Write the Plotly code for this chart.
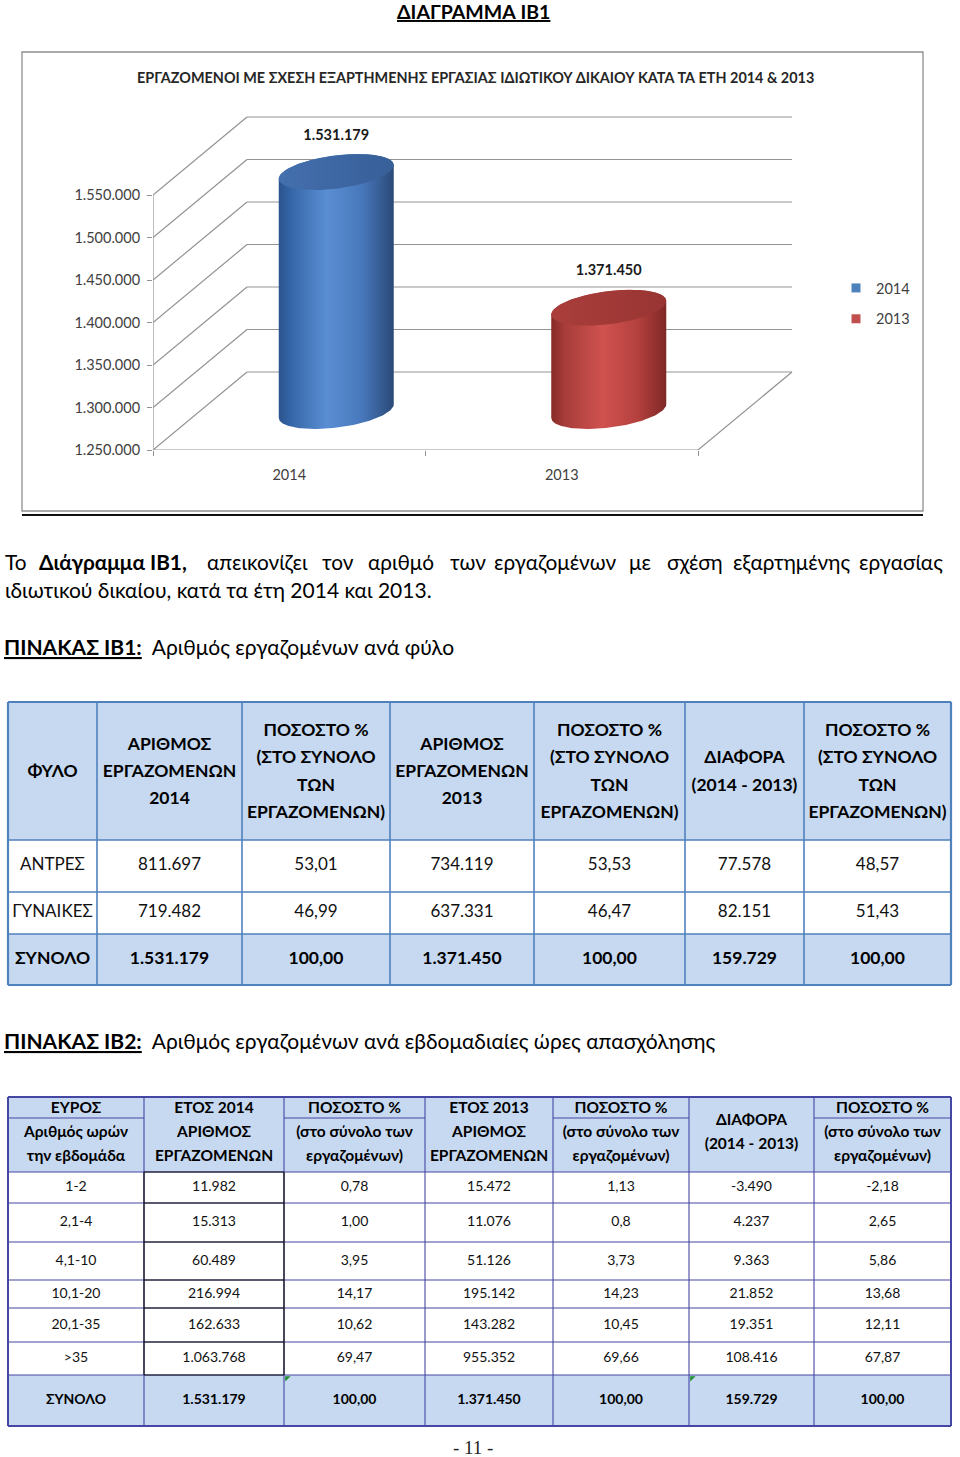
import math
import numpy as np
import plotly.graph_objects as go

# ====================== DATA ======================
years = ["2014", "2013"]
employees_total = [1531179, 1371450]
value_ticks = [1250000, 1300000, 1350000, 1400000, 1450000, 1500000, 1550000]

# Table IB1 (by sex)
t1_header = ["ΦΥΛΟ", "ΑΡΙΘΜΟΣ<br>ΕΡΓΑΖΟΜΕΝΩΝ<br>2014",
             "ΠΟΣΟΣΤΟ %<br>(ΣΤΟ ΣΥΝΟΛΟ<br>ΤΩΝ<br>ΕΡΓΑΖΟΜΕΝΩΝ)",
             "ΑΡΙΘΜΟΣ<br>ΕΡΓΑΖΟΜΕΝΩΝ<br>2013",
             "ΠΟΣΟΣΤΟ %<br>(ΣΤΟ ΣΥΝΟΛΟ<br>ΤΩΝ<br>ΕΡΓΑΖΟΜΕΝΩΝ)",
             "ΔΙΑΦΟΡΑ<br>(2014 - 2013)",
             "ΠΟΣΟΣΤΟ %<br>(ΣΤΟ ΣΥΝΟΛΟ<br>ΤΩΝ<br>ΕΡΓΑΖΟΜΕΝΩΝ)"]
t1_group = ["ΑΝΤΡΕΣ", "ΓΥΝΑΙΚΕΣ", "ΣΥΝΟΛΟ"]
t1_n2014 = [811697, 719482, 1531179]
t1_p2014 = ["53,01", "46,99", "100,00"]
t1_n2013 = [734119, 637331, 1371450]
t1_p2013 = ["53,53", "46,47", "100,00"]
t1_diff = [77578, 82151, 159729]
t1_pdiff = ["48,57", "51,43", "100,00"]

# Table IB2 (by weekly hours)
t2_header = ["ΕΥΡΟΣ<br>Αριθμός ωρών<br>την εβδομάδα",
             "ΕΤΟΣ 2014<br>ΑΡΙΘΜΟΣ<br>ΕΡΓΑΖΟΜΕΝΩΝ",
             "ΠΟΣΟΣΤΟ %<br>(στο σύνολο των<br>εργαζομένων)",
             "ΕΤΟΣ 2013<br>ΑΡΙΘΜΟΣ<br>ΕΡΓΑΖΟΜΕΝΩΝ",
             "ΠΟΣΟΣΤΟ %<br>(στο σύνολο των<br>εργαζομένων)",
             "ΔΙΑΦΟΡΑ<br>(2014 - 2013)",
             "ΠΟΣΟΣΤΟ %<br>(στο σύνολο των<br>εργαζομένων)"]
t2_header_split = [True, False, True, False, True, False, True]
t2_range = ["1-2", "2,1-4", "4,1-10", "10,1-20", "20,1-35", ">35", "ΣΥΝΟΛΟ"]
t2_n2014 = [11982, 15313, 60489, 216994, 162633, 1063768, 1531179]
t2_p2014 = ["0,78", "1,00", "3,95", "14,17", "10,62", "69,47", "100,00"]
t2_n2013 = [15472, 11076, 51126, 195142, 143282, 955352, 1371450]
t2_p2013 = ["1,13", "0,8", "3,73", "14,23", "10,45", "69,66", "100,00"]
t2_diff = [-3490, 4237, 9363, 21852, 19351, 108416, 159729]
t2_pdiff = ["-2,18", "2,65", "5,86", "13,68", "12,11", "67,87", "100,00"]

# ====================== STYLE / GEOMETRY ======================
W, H = 960, 1457
HM = 1449          # effective vertical mapping height (page px)
FONT = "Lato, 'Open Sans', sans-serif"
GRID = "#939393"
TICKFONT = dict(family=FONT, size=14.5, color="#404040")

cyl_style = {
    "2014": dict(body=[[0, "#2A538C"], [0.12, "#3768AA"], [0.42, "#5A8ED3"], [0.72, "#4878BC"], [1, "#2A4A78"]],
                 top=[[0, "#4470AE"], [1, "#375F98"]], legend="#4F81BD"),
    "2013": dict(body=[[0, "#862A28"], [0.12, "#A73D3A"], [0.45, "#D0524F"], [0.75, "#B4413E"], [1, "#7F2826"]],
                 top=[[0, "#AA3E3B"], [1, "#983533"]], legend="#C0504D"),
}

# chart axes geometry (page pixels)
AX_X0, AX_X1, AX_YB, AX_YT = 153, 800, 450, 100
PX_PER_CAT = 272.5
PX_PER_VAL = 42.5 / 50000
DEPTH_X_PX, DEPTH_Y_PX = 94, 78
DX = DEPTH_X_PX / PX_PER_CAT
DY = DEPTH_Y_PX / PX_PER_VAL
CYL_HALF_PX = 57.5
Q_PX = 18.0
P_PX = Q_PX * DEPTH_X_PX / DEPTH_Y_PX
A_PX = math.sqrt(CYL_HALF_PX ** 2 - P_PX ** 2)
TH0 = math.atan2(P_PX, A_PX)
LABEL_GAP_PX = 36

x_range = [0, (AX_X1 - AX_X0) / PX_PER_CAT]
y_range = [value_ticks[0], value_ticks[0] + (AX_YB - AX_YT) / PX_PER_VAL]


def gr_int(n):
    return f"{n:,}".replace(",", ".")


def ellipse(xc, yc, th):
    th = np.asarray(th)
    x = xc + (A_PX * np.cos(th) + P_PX * np.sin(th)) / PX_PER_CAT
    y = yc + Q_PX * np.sin(th) / PX_PER_VAL
    return x, y


fig = go.Figure()

# ---------- 3D frame (walls + floor) ----------
base0 = value_ticks[0]
ncat = len(years)
gx, gy = [], []
for v in value_ticks:
    gx += [DX, ncat + DX, None]
    gy += [v + DY, v + DY, None]
    gx += [0, DX, None]
    gy += [v, v + DY, None]
gx += [0, 0, None]
gy += [value_ticks[0], value_ticks[-1], None]
gx += [0, ncat, ncat + DX, None]
gy += [base0, base0, base0 + DY, None]
fig.add_trace(go.Scatter(x=gx, y=gy, mode="lines", line=dict(color=GRID, width=1.2),
                         hoverinfo="skip", showlegend=False))

# ---------- cylinders ----------
N = 80
for i, (yr, v) in enumerate(zip(years, employees_total)):
    st = cyl_style[yr]
    xc = i + 0.5 + DX / 2
    yb = base0 + DY / 2
    yt = v + DY / 2
    bx, by = ellipse(xc, yb, np.linspace(TH0 + math.pi, TH0 + 2 * math.pi, N))
    tx, ty = ellipse(xc, yt, np.linspace(TH0, TH0 + math.pi, N))
    body_x = np.concatenate([bx, tx, bx[:1]])
    body_y = np.concatenate([by, ty, by[:1]])
    fig.add_trace(go.Scatter(x=body_x, y=body_y, mode="lines", line=dict(width=0),
                             fill="toself",
                             fillgradient=dict(type="horizontal", colorscale=st["body"]),
                             hoverinfo="skip", showlegend=False))
    ex, ey = ellipse(xc, yt, np.linspace(0, 2 * math.pi, 2 * N))
    fig.add_trace(go.Scatter(x=ex, y=ey, mode="lines", line=dict(width=0),
                             fill="toself",
                             fillgradient=dict(type="horizontal", colorscale=st["top"]),
                             hoverinfo="skip", showlegend=False))
    fig.add_trace(go.Scatter(x=[xc], y=[yt + LABEL_GAP_PX / PX_PER_VAL], mode="text",
                             text=[f"<b>{gr_int(v)}</b>"], textposition="middle center",
                             textfont=dict(family=FONT, size=14.5, color="#1A1A1A"),
                             cliponaxis=False, hoverinfo="skip", showlegend=False))

for yr in years:
    fig.add_trace(go.Scatter(x=[None], y=[None], mode="markers", name=yr, legendgroup=yr,
                             marker=dict(symbol="square", size=9, color=cyl_style[yr]["legend"])))

# ====================== TABLES (page pixel axes x2/y2) ======================
PX = dict(xaxis="x2", yaxis="y2")


def cell_centers(edges):
    return [(a + b) / 2 for a, b in zip(edges[:-1], edges[1:])]


def text_points(xs, yc, cells, spacing, bold):
    X, Y, T = [], [], []
    for x, txt in zip(xs, cells):
        lines = txt.split("<br>")
        n = len(lines)
        for k, ln in enumerate(lines):
            X.append(x)
            Y.append(yc + (k - (n - 1) / 2) * spacing)
            T.append(f"<b>{ln}</b>" if bold else ln)
    return X, Y, T


def add_text(X, Y, T, size, color="#000000"):
    fig.add_trace(go.Scatter(x=X, y=Y, text=T, mode="text", textposition="middle center",
                             textfont=dict(family=FONT, size=size, color=color),
                             hoverinfo="skip", showlegend=False, cliponaxis=False, **PX))


def add_lines(segs, color, width):
    lx, ly = [], []
    for (x0, y0, x1, y1) in segs:
        lx += [x0, x1, None]
        ly += [y0, y1, None]
    fig.add_trace(go.Scatter(x=lx, y=ly, mode="lines", line=dict(color=color, width=width),
                             hoverinfo="skip", showlegend=False, **PX))


HEAD_FILL = "#C6D9F1"
colorscale_cells = [[0, "#FFFFFF"], [1, HEAD_FILL]]

# ---------- Table IB1 ----------
t1_cols = [8, 97, 242, 390, 534, 685, 804, 951]
t1_rows = [702, 840, 892, 934, 985]
t1_body = [[t1_group[r], gr_int(t1_n2014[r]), t1_p2014[r], gr_int(t1_n2013[r]),
            t1_p2013[r], gr_int(t1_diff[r]), t1_pdiff[r]] for r in range(len(t1_group))]
nr1 = len(t1_group)
fig.add_trace(go.Heatmap(x=t1_cols, y=t1_rows,
                         z=[[1] * 7] + [[0] * 7] * (nr1 - 1) + [[1] * 7],
                         zmin=0, zmax=1, colorscale=colorscale_cells, showscale=False,
                         hoverinfo="skip", **PX))
segs = [(t1_cols[0], y, t1_cols[-1], y) for y in t1_rows[1:-1]]
segs += [(x, t1_rows[0], x, t1_rows[-1]) for x in t1_cols[1:-1]]
add_lines(segs, "#4F81BD", 1.6)
add_lines([(t1_cols[0], t1_rows[0], t1_cols[-1], t1_rows[0]),
           (t1_cols[-1], t1_rows[0], t1_cols[-1], t1_rows[-1]),
           (t1_cols[-1], t1_rows[-1], t1_cols[0], t1_rows[-1]),
           (t1_cols[0], t1_rows[-1], t1_cols[0], t1_rows[0])], "#4F81BD", 2.2)
c1 = cell_centers(t1_cols)
r1 = cell_centers(t1_rows)
X, Y, T = text_points(c1, r1[0] + 1.5, t1_header, 27.3, True)
add_text(X, Y, T, 17.5)
X, Y, T = [], [], []
for r in range(nr1 - 1):
    a, b, c = text_points(c1, r1[r + 1], t1_body[r], 0, False)
    X += a; Y += b; T += c
add_text(X, Y, T, 17, "#111111")
X, Y, T = text_points(c1, r1[-1], t1_body[-1], 0, True)
add_text(X, Y, T, 17.5)

# ---------- Table IB2 ----------
t2_cols = [8, 144, 284, 425, 553, 689, 814, 951]
t2_rows = [1097, 1172, 1203, 1242, 1280, 1308, 1342, 1375, 1426]
t2_sub = 1118
t2_body = [[t2_range[r], gr_int(t2_n2014[r]), t2_p2014[r], gr_int(t2_n2013[r]),
            t2_p2013[r], gr_int(t2_diff[r]), t2_pdiff[r]] for r in range(len(t2_range))]
nr2 = len(t2_range)
fig.add_trace(go.Heatmap(x=t2_cols, y=t2_rows,
                         z=[[1] * 7] + [[0] * 7] * (nr2 - 1) + [[1] * 7],
                         zmin=0, zmax=1, colorscale=colorscale_cells, showscale=False,
                         hoverinfo="skip", **PX))
B2 = "#4646A4"
segs = [(t2_cols[0], y, t2_cols[-1], y) for y in t2_rows[1:-1]]
segs += [(x, t2_rows[0], x, t2_rows[-1]) for x in t2_cols[1:-1]]
segs += [(t2_cols[j], t2_sub, t2_cols[j + 1], t2_sub) for j, s in enumerate(t2_header_split) if s]
add_lines(segs, B2, 1.1)
add_lines([(t2_cols[0], t2_rows[0], t2_cols[-1], t2_rows[0]),
           (t2_cols[-1], t2_rows[0], t2_cols[-1], t2_rows[-1]),
           (t2_cols[-1], t2_rows[-1], t2_cols[0], t2_rows[-1]),
           (t2_cols[0], t2_rows[-1], t2_cols[0], t2_rows[0])], B2, 2)
# black borders around the 2014 count cells
blk = [(t2_cols[1], y, t2_cols[2], y) for y in t2_rows[1:-1]]
blk += [(x, t2_rows[1], x, t2_rows[-2]) for x in t2_cols[1:3]]
add_lines(blk, "#111111", 1.2)
c2 = cell_centers(t2_cols)
r2 = cell_centers(t2_rows)
X, Y, T = text_points(c2, r2[0] - 1.5, t2_header, 24, True)
add_text(X, Y, T, 15.5)
X, Y, T = [], [], []
for r in range(nr2 - 1):
    a, b, c = text_points(c2, r2[r + 1], t2_body[r], 0, False)
    X += a; Y += b; T += c
add_text(X, Y, T, 14, "#111111")
X, Y, T = text_points(c2, r2[-1], t2_body[-1], 0, True)
add_text(X, Y, T, 14)
# green error-indicator corners
fig.add_trace(go.Scatter(x=[t2_cols[2] + 3, t2_cols[5] + 3], y=[t2_rows[-2] + 3] * 2, mode="markers",
                         marker=dict(symbol="triangle-nw", size=6, color="#1F8F2F"),
                         hoverinfo="skip", showlegend=False, **PX))

# ====================== PAGE TEXT ======================
ann = []


def add_ann(text, x, y, size, xanchor="left", color="#000000", family=FONT):
    ann.append(dict(text=text, x=x, y=y, xref="x2", yref="y2", xanchor=xanchor, yanchor="middle",
                    showarrow=False, font=dict(family=family, size=size, color=color)))


add_ann("<b><u>ΔΙΑΓΡΑΜΜΑ ΙΒ1</u></b>", 473, 11, 19.5, "center")
add_ann("<b>ΕΡΓΑΖΟΜΕΝΟΙ ΜΕ ΣΧΕΣΗ ΕΞΑΡΤΗΜΕΝΗΣ ΕΡΓΑΣΙΑΣ ΙΔΙΩΤΙΚΟΥ ΔΙΚΑΙΟΥ ΚΑΤΑ ΤΑ ΕΤΗ 2014 &amp; 2013</b>",
        475, 77, 14.4, "center", "#262626")

line1_words = ["Το", "<b>Διάγραμμα ΙΒ1,</b>", "απεικονίζει", "τον", "αριθμό", "των",
               "εργαζομένων", "με", "σχέση", "εξαρτημένης", "εργασίας"]
line1_x = [3, 113, 257, 338, 401, 468, 555, 639.5, 695, 791, 945]
for k, (wd, x) in enumerate(zip(line1_words, line1_x)):
    anchor = "left" if k == 0 else ("right" if k == len(line1_words) - 1 else "center")
    add_ann(wd, x, 561, 20.8, anchor)
add_ann("ιδιωτικού δικαίου, κατά τα έτη 2014 και 2013.", 3, 589, 21)
add_ann("<b><u>ΠΙΝΑΚΑΣ ΙΒ1:</u></b>\u00a0\u00a0Αριθμός εργαζομένων ανά φύλο", 2, 646, 21)
add_ann("<b><u>ΠΙΝΑΚΑΣ ΙΒ2:</u></b>\u00a0\u00a0Αριθμός εργαζομένων ανά εβδομαδιαίες ώρες απασχόλησης",
        2, 1040, 21)
add_ann("- 11 -", 473, 1447, 19, "center", "#222222", "'Liberation Serif', serif")

shapes = [
    dict(type="rect", xref="x2", yref="y2", x0=22, y0=52, x1=923, y1=511,
         line=dict(color="#8E8E8E", width=1.3), layer="below"),
    dict(type="line", xref="x2", yref="y2", x0=22, y0=515, x1=923, y1=515,
         line=dict(color="#111111", width=2)),
]

fig.update_layout(
    width=W, height=H, margin=dict(l=0, r=0, t=0, b=0),
    paper_bgcolor="white", plot_bgcolor="rgba(0,0,0,0)",
    font=dict(family=FONT, color="#000000"),
    separators=",.",
    showlegend=True,
    legend=dict(x=836 / W, y=1 - 272 / HM, xanchor="left", yanchor="top",
                font=dict(family=FONT, size=14.5, color="#404040"),
                bgcolor="rgba(0,0,0,0)", traceorder="grouped", tracegroupgap=9, itemwidth=30),
    xaxis=dict(domain=[AX_X0 / W, AX_X1 / W], range=x_range, showgrid=False, zeroline=False,
               showline=False, tickmode="array", tickvals=[i + 0.5 for i in range(ncat)],
               ticktext=years, ticks="", tickfont=TICKFONT, ticklabelstandoff=14,
               minor=dict(tickmode="array", tickvals=list(range(ncat + 1)), ticks="outside",
                          ticklen=5, tickcolor=GRID, tickwidth=1.2, showgrid=False),
               anchor="y", fixedrange=True),
    yaxis=dict(domain=[1 - AX_YB / HM, 1 - AX_YT / HM], range=y_range, showgrid=False,
               zeroline=False, showline=False, tickmode="array", tickvals=value_ticks,
               tickformat=",d", ticks="outside", ticklen=5, tickcolor=GRID, tickwidth=1.2,
               tickfont=TICKFONT, ticklabelstandoff=4, anchor="x", fixedrange=True),
    xaxis2=dict(domain=[0, 1], range=[0, W], visible=False, anchor="y2", fixedrange=True),
    yaxis2=dict(domain=[0, 1], range=[HM, 0], visible=False, anchor="x2", fixedrange=True),
    annotations=ann, shapes=shapes,
)

fig.write_html("out.html", config={"displayModeBar": False},
               post_script="document.body.style.margin='0px';")
